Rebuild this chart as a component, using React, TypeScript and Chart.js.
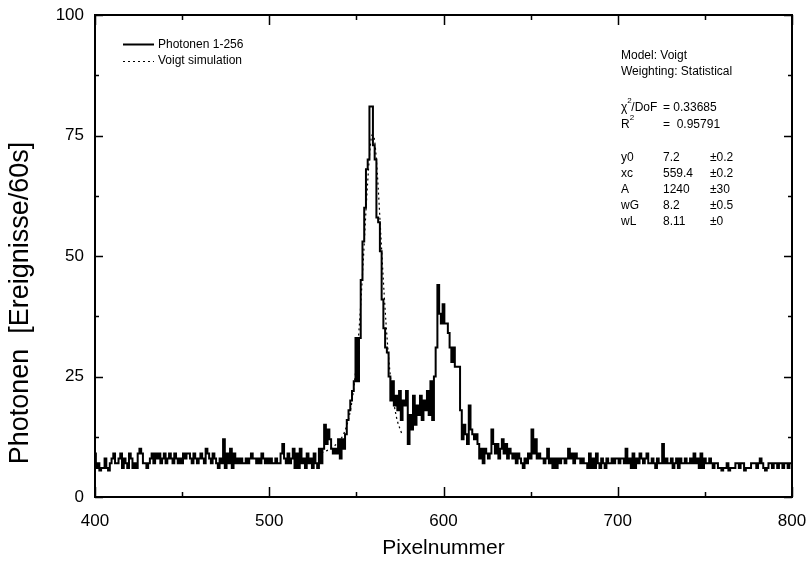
import React, { useEffect, useRef } from 'react';
import { Chart, registerables } from 'chart.js';
Chart.register(...registerables);

const pixelStart = 400;
const photonCounts = [
  9,6,7,5.5,6,6,8,6,5.5,7,8,9,7,7,8,9,6,8,7,6,
  9,8,6,7,6,9,10,9,7,7,6,7,8,9,7,9,8,9,7,8,
  9,7,8,9,8,7,9,8,7,8,7,9,8,9,9,8,7,9,8,7,
  8,9,8,7,10,9,8,7,9,8,7,6,8,7,12,6,9,7,10,6,
  9,7,8,7,8,7,7,8,7,8,9,8,8,7,8,7,9,8,7,8,
  7,8,7,7,8,7,7,9,11,8,7,9,7,8,10,6,9,6,10,7,
  8,6,9,7,8,6,9,7,6,10,7,10,15,11,14,12,10,9,10,9,
  12,8,12,10,13,16,18,20,22,24,33,24,33,45,53,60,68,70,81,81,
  73,70,58,57,51,41,35,31,30,25,20,24,19,21,18,22,16,20,19,22,
  11,17,14,21,15,19,17,21,16,20,18,22,17,24,16,25,31,44,38,36,
  40,36,36,34,31,28,31,27,27,27,18,12,15,13,11,19,14,13,12,13,
  11,8,10,7,10,9,8,9,14,11,9,11,8,10,12,9,11,8,10,9,
  8,9,7,9,8,7,6,8,7,9,8,14,9,12,8,9,8,8,7,8,
  10,7,8,6,8,6,8,7,8,8,7,8,10,8,9,7,9,8,8,7,
  8,7,7,6,9,6,8,6,9,7,6,8,7,6,8,7,7,8,7,8,
  8,7,8,8,7,10,7,8,6,9,6,8,7,9,8,7,8,9,7,7,
  8,7,6,8,7,7,11,7,8,7,7,8,6,7,8,6,8,7,7,8,
  7,7,8,7,9,7,8,6,9,6,8,7,7,8,7,6,7,7,6,6,
  5.5,6,6,7,5.5,6,6,6,7,7,6,7,7,5.5,6,6,6,7,7,7,
  6,7,8,7,6,5.5,6,7,7,6,7,7,6,7,7,6,7,7,6,7,7,
];

const voigtX = [530,535,540,543,546,548,550,552,554,556,558,559,560,561,562,564,566,568,570,573,576];
const voigtY = [9.17,10.0,11.53,13.33,16.9,21.17,27.76,37.19,49.28,62.48,72.8,75.12,74.85,72.07,67.26,54.58,41.74,31.18,23.49,16.58,13.17];

const xMin = 400, xMax = 800, xMajor = 100, xMinor = 50;
const yMin = 0, yMax = 100, yMajor = 25, yMinor = 12.5;

const xTitle = 'Pixelnummer';
const yTitle = 'Photonen  [Ereignisse/60s]';
const legendLabels = ['Photonen 1-256', 'Voigt simulation'];
const fitModel = 'Model: Voigt';
const fitWeighting = 'Weighting: Statistical';
const chiValue = '= 0.33685';
const r2Value = '=  0.95791';
const fitNames = ['y0', 'xc', 'A', 'wG', 'wL'];
const fitValues = ['7.2', '559.4', '1240', '8.2', '8.11'];
const fitErrors = ['\u00b10.2', '\u00b10.2', '\u00b130', '\u00b10.5', '\u00b10'];

const FONT = '"Liberation Sans", Arial, sans-serif';

const framePlugin = {
  id: 'frameTicks',
  afterDraw(chart: any) {
    const { ctx, chartArea, scales } = chart;
    const { left, right, top, bottom } = chartArea;
    const xs = scales.x, ys = scales.y;
    ctx.save();
    ctx.strokeStyle = '#000';
    ctx.lineWidth = 2;
    ctx.strokeRect(left, top, right - left, bottom - top);
    ctx.lineWidth = 1.5;
    ctx.beginPath();
    for (let v = xMin; v <= xMax + 1e-6; v += xMinor) {
      const major = Math.abs(v % xMajor) < 1e-6;
      const len = major ? 10 : 5;
      const px = Math.round(xs.getPixelForValue(v)) + 0.5;
      ctx.moveTo(px, bottom); ctx.lineTo(px, bottom - len);
      ctx.moveTo(px, top); ctx.lineTo(px, top + len);
    }
    for (let v = yMin; v <= yMax + 1e-6; v += yMinor) {
      const major = Math.abs(v % yMajor) < 1e-6;
      const len = major ? 8 : 4;
      const py = Math.round(ys.getPixelForValue(v)) + 0.5;
      ctx.moveTo(left, py); ctx.lineTo(left + len, py);
      ctx.moveTo(right, py); ctx.lineTo(right - len, py);
    }
    ctx.stroke();

    ctx.fillStyle = '#000';
    // y axis title
    ctx.save();
    ctx.translate(21, 303);
    ctx.rotate(-Math.PI / 2);
    ctx.font = `27px ${FONT}`;
    ctx.textAlign = 'center';
    ctx.textBaseline = 'middle';
    ctx.fillText(yTitle, 0, 0);
    ctx.restore();

    // legend
    ctx.font = `12px ${FONT}`;
    ctx.textBaseline = 'middle';
    ctx.textAlign = 'left';
    ctx.lineWidth = 2;
    ctx.beginPath(); ctx.moveTo(123, 44.5); ctx.lineTo(154, 44.5); ctx.stroke();
    ctx.fillText(legendLabels[0], 158, 45);
    ctx.lineWidth = 1.2;
    ctx.setLineDash([2, 3]);
    ctx.beginPath(); ctx.moveTo(123, 61.5); ctx.lineTo(154, 61.5); ctx.stroke();
    ctx.setLineDash([]);
    ctx.fillText(legendLabels[1], 158, 61);

    // fit info
    const tx = 621;
    ctx.fillText(fitModel, tx, 56);
    ctx.fillText(fitWeighting, tx, 72);
    ctx.fillText('\u03c7', tx, 108);
    const chiW = ctx.measureText('\u03c7').width;
    ctx.font = `8px ${FONT}`;
    ctx.fillText('2', tx + chiW, 101);
    ctx.font = `12px ${FONT}`;
    ctx.fillText('/DoF', tx + chiW + 4, 108);
    ctx.fillText(chiValue, 663, 108);
    ctx.fillText('R', tx, 125);
    const rW = ctx.measureText('R').width;
    ctx.font = `8px ${FONT}`;
    ctx.fillText('2', tx + rW, 118);
    ctx.font = `12px ${FONT}`;
    ctx.fillText(r2Value, 663, 125);
    for (let i = 0; i < fitNames.length; i++) {
      const yy = 158 + i * 16;
      ctx.fillText(fitNames[i], tx, yy);
      ctx.fillText(fitValues[i], 663, yy);
      ctx.fillText(fitErrors[i], 710, yy);
    }
    ctx.restore();
  },
};

export default function App() {
  const ref = useRef<HTMLCanvasElement>(null);
  useEffect(() => {
    document.body.style.margin = '0';
    const canvas = ref.current!;
    const dataPts = photonCounts.map((v, i) => ({ x: pixelStart + i, y: v }));
    const voigtPts = voigtX.map((x, i) => ({ x, y: voigtY[i] }));
    const chart = new Chart(canvas, {
      type: 'line',
      data: {
        datasets: [
          {
            label: legendLabels[0],
            data: dataPts,
            borderColor: '#000',
            borderWidth: 2,
            pointRadius: 0,
            stepped: 'middle',
            fill: false,
          },
          {
            label: legendLabels[1],
            data: voigtPts,
            borderColor: '#000',
            borderWidth: 1.2,
            borderDash: [2, 3],
            pointRadius: 0,
            cubicInterpolationMode: 'monotone',
            fill: false,
          },
        ],
      },
      options: {
        animation: false,
        responsive: false,
        events: [],
        layout: { padding: { top: 15, right: 16, left: 0, bottom: 0 } },
        plugins: { legend: { display: false }, tooltip: { enabled: false } },
        scales: {
          x: {
            type: 'linear',
            min: xMin,
            max: xMax,
            afterFit: (s: any) => { s.height = 65; s.paddingLeft = 0; s.paddingRight = 0; },
            afterBuildTicks: (s: any) => {
              const t = [];
              for (let v = xMin; v <= xMax; v += xMajor) t.push({ value: v });
              s.ticks = t;
            },
            grid: { display: false, drawTicks: false, tickLength: 0 },
            border: { display: false },
            ticks: { color: '#000', font: { size: 17, family: FONT }, padding: 14, maxRotation: 0 },
            title: { display: true, text: xTitle, color: '#000', font: { size: 21, family: FONT }, padding: { top: 0, bottom: 1 } },
          },
          y: {
            type: 'linear',
            min: yMin,
            max: yMax,
            afterFit: (s: any) => { s.width = 95; s.paddingTop = 0; s.paddingBottom = 0; },
            afterBuildTicks: (s: any) => {
              const t = [];
              for (let v = yMin; v <= yMax; v += yMajor) t.push({ value: v });
              s.ticks = t;
            },
            grid: { display: false, drawTicks: false, tickLength: 0 },
            border: { display: false },
            ticks: { color: '#000', font: { size: 17, family: FONT }, padding: 11 },
            title: { display: false },
          },
        },
      },
      plugins: [framePlugin],
    });
    return () => chart.destroy();
  }, []);
  return (
    <div style={{ width: 808, height: 562 }}>
      <canvas ref={ref} width={808} height={562} style={{ display: 'block', width: 808, height: 562 }} />
    </div>
  );
}
